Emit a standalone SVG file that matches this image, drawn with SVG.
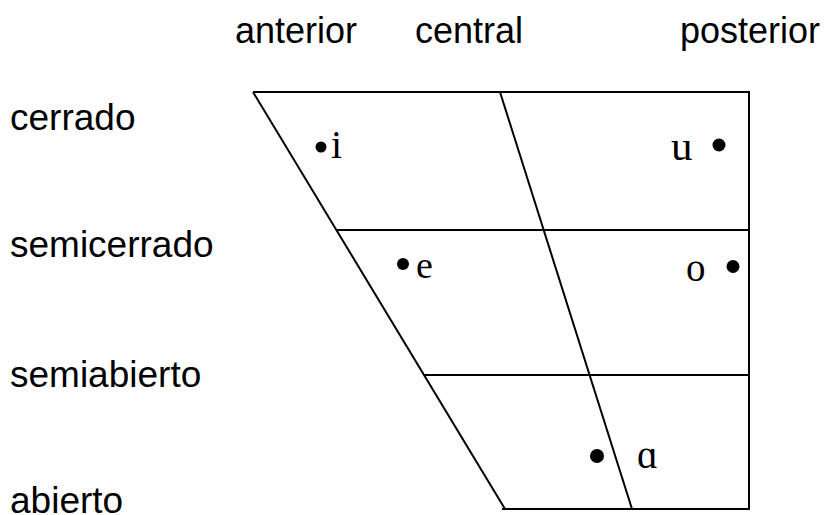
<svg xmlns="http://www.w3.org/2000/svg" width="827" height="515" viewBox="0 0 827 515">
<style>
.lbl{font-family:"Liberation Sans",Arial,sans-serif;font-size:36px;fill:#000}
.side{font-size:37px}
.v{font-family:"Liberation Serif","DejaVu Serif",serif;fill:#000}
.ln{stroke:#000;stroke-width:2;fill:none}
</style>
<rect width="827" height="515" fill="#fff"/>
<g id="labels">
<text class="lbl" x="235" y="42.5">anterior</text>
<text class="lbl" x="415" y="42.5">central</text>
<text class="lbl" x="680" y="42.5">posterior</text>
<text class="lbl side" x="10" y="130">cerrado</text>
<text class="lbl side" x="10" y="256.5">semicerrado</text>
<text class="lbl side" x="10" y="386.5">semiabierto</text>
<text class="lbl side" x="10" y="512.5">abierto</text>
</g>
<g id="connectors">
<line class="ln" x1="253" y1="92" x2="749" y2="92"/>
<line class="ln" x1="749" y1="91" x2="749" y2="510"/>
<line class="ln" x1="253" y1="92" x2="505" y2="509"/>
<line class="ln" x1="500" y1="92" x2="632" y2="509"/>
<line class="ln" x1="336.5" y1="230" x2="749" y2="230"/>
<line class="ln" x1="424" y1="375" x2="749" y2="375"/>
<line class="ln" x1="502" y1="509" x2="749" y2="509"/>
</g>
<g id="vowel-i">
<circle cx="321" cy="147" r="5.5"/>
<text class="v" x="331" y="158" font-size="40">i</text>
</g>
<g id="vowel-u">
<text class="v" x="671" y="160" font-size="43">u</text>
<circle cx="719" cy="145" r="6.5"/>
</g>
<g id="vowel-e">
<circle cx="403" cy="264" r="6"/>
<text class="v" x="416" y="278" font-size="38">e</text>
</g>
<g id="vowel-o">
<text class="v" x="686" y="281" font-size="39">o</text>
<circle cx="733" cy="266.5" r="6.5"/>
</g>
<g id="vowel-a">
<circle cx="597" cy="456" r="7"/>
<text class="v" x="637" y="468" font-size="40">ɑ</text>
</g>
</svg>
